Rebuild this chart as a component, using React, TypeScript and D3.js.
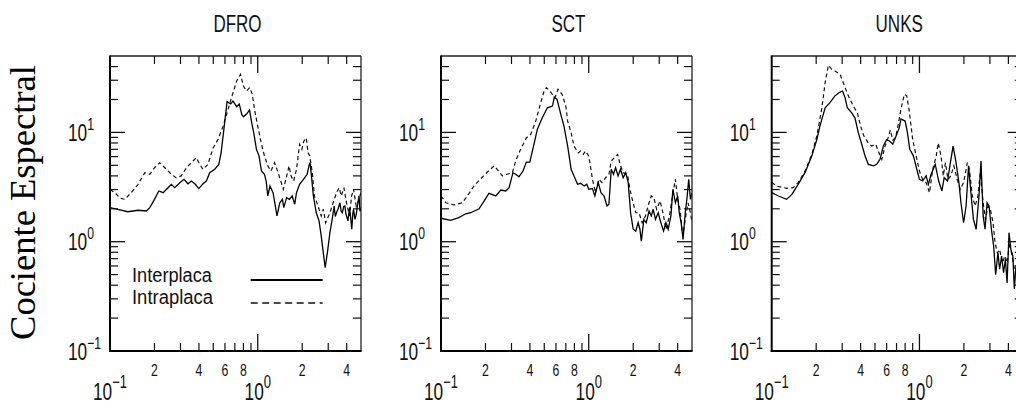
import React from 'react';
import * as d3 from 'd3';

type Pt = [number, number];

const stations = ['DFRO', 'SCT', 'UNKS'];
const seriesNames = ['Interplaca', 'Intraplaca'];

const dfroInter: Pt[] = [
  [0.1, 2.05], [0.113, 1.98], [0.132, 1.88], [0.155, 1.94], [0.176, 1.91], [0.186, 2.05], [0.2, 2.44],
  [0.214, 2.91], [0.229, 2.81], [0.247, 3.12], [0.26, 3.35], [0.274, 3.12], [0.297, 3.46], [0.317, 3.72],
  [0.337, 3.39], [0.355, 3.59], [0.378, 3.35], [0.399, 3.06], [0.426, 3.39], [0.449, 3.59], [0.473, 4.28],
  [0.511, 4.59], [0.545, 5.1], [0.565, 6.5], [0.583, 9.3], [0.6, 13.0], [0.62, 19.1], [0.656, 18.2],
  [0.68, 19.3], [0.72, 17.2], [0.75, 18.2], [0.78, 14.5], [0.8, 13.9], [0.84, 14.7], [0.88, 16.0],
  [0.91, 12.3], [0.94, 9.9], [0.98, 7.0], [1.02, 6.1], [1.06, 4.43], [1.11, 4.14], [1.14, 3.59],
  [1.17, 2.62], [1.21, 3.23], [1.27, 2.81], [1.35, 1.72], [1.41, 2.27], [1.47, 2.44], [1.5, 2.05],
  [1.57, 2.53], [1.64, 2.44], [1.71, 2.62], [1.78, 2.2], [1.83, 2.81], [1.92, 3.35], [2.04, 3.72],
  [2.16, 4.14], [2.22, 4.94], [2.26, 5.28], [2.31, 4.0], [2.38, 2.62], [2.49, 1.84], [2.6, 1.55],
  [2.69, 1.13], [2.76, 0.85], [2.86, 0.58], [2.96, 0.79], [3.08, 1.21], [3.19, 1.6], [3.29, 2.12],
  [3.35, 1.7], [3.41, 1.84], [3.5, 2.0], [3.6, 2.27], [3.67, 1.9], [3.74, 1.84], [3.82, 2.1],
  [3.89, 2.12], [3.95, 1.8], [4.08, 1.55], [4.18, 2.05], [4.25, 1.7], [4.33, 1.3], [4.4, 1.8],
  [4.45, 1.98], [4.55, 1.6], [4.64, 1.78], [4.75, 2.2], [4.85, 2.62], [4.92, 1.9], [5.0, 2.05],
];

const dfroIntra: Pt[] = [
  [0.1, 3.0], [0.108, 2.81], [0.117, 2.5], [0.126, 2.44], [0.139, 2.81], [0.155, 3.35], [0.172, 4.28],
  [0.186, 4.14], [0.2, 4.75], [0.217, 5.28], [0.235, 4.75], [0.26, 4.14], [0.28, 3.85], [0.304, 4.0],
  [0.329, 4.75], [0.355, 5.28], [0.384, 5.87], [0.405, 5.1], [0.426, 4.59], [0.46, 5.1], [0.499, 7.2],
  [0.54, 8.7], [0.583, 11.4], [0.63, 16.3], [0.67, 21.6], [0.72, 29.5], [0.765, 34.0], [0.8, 26.6],
  [0.84, 23.9], [0.88, 25.7], [0.92, 22.2], [0.95, 16.3], [1.0, 11.4], [1.06, 7.8], [1.11, 6.1],
  [1.17, 4.94], [1.23, 4.43], [1.3, 5.28], [1.35, 4.59], [1.42, 3.72], [1.49, 3.02], [1.54, 3.59],
  [1.63, 4.94], [1.68, 4.0], [1.75, 3.59], [1.83, 4.59], [1.92, 7.8], [1.99, 7.0], [2.05, 8.3],
  [2.13, 8.9], [2.19, 6.5], [2.25, 6.1], [2.34, 4.28], [2.42, 2.62], [2.56, 2.12], [2.69, 1.72],
  [2.78, 1.98], [2.88, 1.49], [3.08, 1.84], [3.24, 2.27], [3.41, 2.81], [3.56, 3.12], [3.68, 2.62],
  [3.83, 3.12], [3.99, 2.27], [4.18, 1.72], [4.32, 2.62], [4.45, 3.02], [4.64, 2.12], [4.85, 2.44],
  [5.0, 2.85],
];

const sctInter: Pt[] = [
  [0.1, 1.64], [0.116, 1.57], [0.132, 1.66], [0.147, 1.8], [0.159, 1.84], [0.181, 2.0], [0.196, 2.36],
  [0.211, 2.77], [0.235, 2.62], [0.254, 2.97], [0.274, 2.91], [0.289, 3.12], [0.307, 4.28], [0.32, 4.14],
  [0.337, 3.93], [0.359, 4.43], [0.378, 5.35], [0.399, 5.35], [0.426, 7.8], [0.449, 10.7], [0.485, 13.6],
  [0.525, 16.8], [0.568, 17.4], [0.585, 21.0], [0.61, 20.1], [0.647, 14.6], [0.68, 11.4], [0.72, 7.5],
  [0.76, 4.59], [0.795, 4.0], [0.84, 3.35], [0.88, 3.42], [0.93, 3.23], [0.97, 3.35], [1.0, 3.02],
  [1.06, 3.06], [1.1, 2.62], [1.16, 3.47], [1.21, 2.81], [1.27, 2.62], [1.33, 2.12], [1.37, 2.2],
  [1.42, 4.59], [1.47, 4.14], [1.52, 4.75], [1.58, 4.0], [1.64, 4.59], [1.71, 3.85], [1.78, 4.28],
  [1.85, 3.47], [1.92, 1.84], [2.0, 1.3], [2.08, 1.25], [2.16, 1.49], [2.22, 1.3], [2.27, 1.01],
  [2.36, 1.6], [2.45, 1.49], [2.56, 1.91], [2.65, 1.72], [2.73, 1.98], [2.83, 1.6], [2.95, 1.84],
  [3.08, 1.49], [3.21, 1.25], [3.33, 1.49], [3.45, 1.3], [3.6, 1.72], [3.71, 3.02], [3.86, 2.27],
  [4.0, 2.62], [4.1, 1.84], [4.22, 1.49], [4.35, 1.05], [4.5, 1.84], [4.64, 2.62], [4.75, 3.72],
  [4.88, 2.44], [5.0, 2.81],
];

const sctIntra: Pt[] = [
  [0.1, 2.62], [0.108, 2.27], [0.122, 2.17], [0.139, 2.27], [0.151, 2.62], [0.167, 3.23], [0.186, 3.77],
  [0.206, 4.34], [0.229, 4.94], [0.245, 4.43], [0.26, 4.0], [0.28, 4.14], [0.304, 4.28], [0.323, 5.67],
  [0.346, 7.0], [0.378, 8.9], [0.405, 9.6], [0.438, 12.7], [0.473, 18.7], [0.499, 23.9], [0.517, 25.7],
  [0.553, 23.4], [0.59, 20.7], [0.62, 24.8], [0.66, 22.3], [0.7, 17.4], [0.72, 12.7], [0.76, 9.9],
  [0.795, 7.5], [0.85, 6.5], [0.88, 6.75], [0.92, 6.3], [0.95, 6.75], [1.0, 6.1], [1.06, 3.72],
  [1.11, 2.81], [1.17, 3.72], [1.23, 3.47], [1.3, 3.85], [1.37, 4.14], [1.42, 5.47], [1.49, 5.87],
  [1.57, 6.3], [1.63, 5.1], [1.71, 4.28], [1.83, 4.14], [1.9, 3.02], [1.97, 2.44], [2.08, 1.84],
  [2.19, 1.84], [2.3, 1.49], [2.42, 1.72], [2.56, 2.27], [2.65, 2.62], [2.76, 2.53], [2.88, 1.98],
  [3.04, 2.36], [3.18, 1.84], [3.33, 1.3], [3.52, 1.72], [3.69, 2.62], [3.86, 3.72], [4.0, 2.44],
  [4.15, 1.98], [4.33, 1.13], [4.5, 1.6], [4.7, 2.27], [4.88, 1.84], [5.0, 1.49],
];

const unksInter: Pt[] = [
  [0.1, 2.81], [0.111, 2.62], [0.126, 2.44], [0.137, 2.71], [0.151, 3.35], [0.168, 4.28], [0.187, 6.1],
  [0.202, 8.6], [0.212, 11.4], [0.23, 16.8], [0.248, 18.7], [0.268, 21.6], [0.29, 23.4], [0.302, 23.9],
  [0.314, 20.7], [0.325, 16.8], [0.348, 15.1], [0.366, 13.6], [0.386, 9.9], [0.407, 7.8], [0.428, 6.1],
  [0.451, 5.1], [0.488, 4.94], [0.514, 5.1], [0.541, 5.67], [0.57, 7.5], [0.6, 8.6], [0.63, 8.3],
  [0.66, 7.8], [0.7, 9.5], [0.73, 11.0], [0.75, 13.3], [0.8, 12.7], [0.83, 9.9], [0.86, 7.0],
  [0.91, 6.1], [0.96, 4.59], [1.0, 3.72], [1.05, 3.59], [1.11, 4.0], [1.15, 3.35], [1.2, 4.14],
  [1.28, 5.1], [1.35, 3.59], [1.42, 2.91], [1.47, 3.85], [1.55, 3.59], [1.62, 5.28], [1.69, 7.5],
  [1.77, 5.28], [1.85, 3.47], [1.91, 2.27], [1.99, 1.49], [2.07, 2.12], [2.15, 4.94], [2.24, 2.62],
  [2.32, 1.6], [2.42, 1.3], [2.53, 2.62], [2.61, 5.47], [2.7, 1.72], [2.78, 1.3], [2.87, 2.27],
  [2.96, 2.12], [3.07, 1.3], [3.18, 0.91], [3.28, 0.5], [3.4, 0.79], [3.49, 0.56], [3.6, 0.74],
  [3.71, 0.52], [3.82, 0.69], [3.92, 0.42], [4.04, 1.21], [4.16, 0.85], [4.29, 0.74], [4.39, 0.37],
  [4.5, 0.6], [4.7, 0.4], [5.0, 0.5],
];

const unksIntra: Pt[] = [
  [0.1, 3.5], [0.108, 3.23], [0.126, 3.08], [0.14, 3.12], [0.151, 3.47], [0.168, 4.43], [0.187, 6.3],
  [0.202, 9.3], [0.218, 16.3], [0.23, 28.5], [0.242, 41.2], [0.255, 37.8], [0.268, 36.5], [0.29, 34.1],
  [0.305, 28.5], [0.33, 21.6], [0.357, 17.4], [0.38, 15.1], [0.4, 11.4], [0.42, 9.3], [0.451, 8.0],
  [0.475, 7.5], [0.506, 7.8], [0.532, 6.5], [0.556, 5.67], [0.585, 7.5], [0.615, 9.0], [0.635, 10.5],
  [0.66, 8.5], [0.69, 9.0], [0.72, 12.0], [0.75, 16.3], [0.79, 22.3], [0.82, 21.6], [0.85, 16.3],
  [0.9, 8.6], [0.95, 6.1], [1.0, 4.43], [1.05, 3.72], [1.11, 3.47], [1.17, 2.81], [1.23, 4.59],
  [1.3, 6.1], [1.34, 8.0], [1.4, 6.1], [1.45, 4.0], [1.5, 5.28], [1.56, 3.72], [1.63, 4.0],
  [1.71, 4.94], [1.8, 3.72], [1.89, 3.02], [1.99, 3.47], [2.11, 5.28], [2.18, 4.59], [2.28, 2.62],
  [2.38, 2.12], [2.49, 2.62], [2.58, 4.28], [2.7, 2.27], [2.8, 1.6], [2.91, 2.12], [3.02, 1.98],
  [3.15, 1.49], [3.25, 0.98], [3.37, 0.79], [3.49, 0.85], [3.64, 0.64], [3.79, 0.74], [3.94, 0.64],
  [4.06, 0.98], [4.24, 0.74], [4.39, 0.56], [4.6, 0.6], [5.0, 0.5],
];

const panelSeries: Pt[][][] = [
  [dfroInter, dfroIntra],
  [sctInter, sctIntra],
  [unksInter, unksIntra],
];

const xDomain: [number, number] = [0.1, 5];
const yDomain: [number, number] = [0.1, 50];
const xMinorTicks = [0.2, 0.3, 0.4, 0.5, 0.6, 0.7, 0.8, 0.9, 2, 3, 4];
const xMajorTicks = [1];
const xLabelValues = [0.2, 0.4, 0.6, 0.8, 2, 4];
const xLabelTexts = ['2', '4', '6', '8', '2', '4'];
const xDecadeValues = [0.1, 1];
const xDecadeExps = ['\u22121', '0'];
const yMinorTicks = [0.2, 0.3, 0.4, 0.5, 0.6, 0.7, 0.8, 0.9, 2, 3, 4, 5, 6, 7, 8, 9, 20, 30, 40];
const yMajorTicks = [1, 10];
const yDecadeValues = [0.1, 1, 10];
const yDecadeExps = ['\u22121', '0', '1'];
const yTitle = 'Cociente Espectral';

const PANEL_LEFTS = [110, 441, 771.7];
const PW = 251;
const TOP = 56;
const BOTTOM = 351;
const SANS = '"Liberation Sans", Arial, Helvetica, sans-serif';

function Panel({ idx }: { idx: number }) {
  const left = PANEL_LEFTS[idx];
  const right = left + PW;
  const x = d3.scaleLog().domain(xDomain).range([left, right]);
  const y = d3.scaleLog().domain(yDomain).range([BOTTOM, TOP]);
  const line = d3.line<Pt>().x(d => x(d[0])).y(d => y(d[1]));
  const [inter, intra] = panelSeries[idx];
  const clipId = `clip-${idx}`;
  const minorLen = 8;
  const majorX = 17;
  const majorY = 15;
  return (
    <g>
      <defs>
        <clipPath id={clipId}>
          <rect x={left} y={TOP} width={PW} height={BOTTOM - TOP} />
        </clipPath>
      </defs>
      <g transform={`translate(${(left + right) / 2 + 2},32) scale(0.74,1)`}>
        <text x={0} y={0} textAnchor="middle" fontFamily={SANS} fontSize={23} fill="#111">{stations[idx]}</text>
      </g>
      <g clipPath={`url(#${clipId})`}>
        <path d={line(intra) || ''} fill="none" stroke="#111" strokeWidth={1.2} strokeDasharray="4,3" />
        <path d={line(inter) || ''} fill="none" stroke="#000" strokeWidth={1.3} />
      </g>
      <line x1={left} y1={TOP} x2={right} y2={TOP} stroke="#222" strokeWidth={1.3} />
      <line x1={right} y1={TOP} x2={right} y2={BOTTOM} stroke="#222" strokeWidth={1.3} />
      <line x1={left} y1={TOP - 0.5} x2={left} y2={BOTTOM + 1} stroke="#000" strokeWidth={2} />
      <line x1={left - 1} y1={BOTTOM} x2={right + 0.6} y2={BOTTOM} stroke="#000" strokeWidth={2} />
      {xMinorTicks.map(v => (
        <g key={`xm${v}`}>
          <line x1={x(v)} x2={x(v)} y1={TOP} y2={TOP + minorLen} stroke="#111" strokeWidth={1.2} />
          <line x1={x(v)} x2={x(v)} y1={BOTTOM} y2={BOTTOM - minorLen} stroke="#111" strokeWidth={1.2} />
        </g>
      ))}
      {xMajorTicks.map(v => (
        <g key={`xM${v}`}>
          <line x1={x(v)} x2={x(v)} y1={TOP} y2={TOP + majorX} stroke="#111" strokeWidth={1.3} />
          <line x1={x(v)} x2={x(v)} y1={BOTTOM} y2={BOTTOM - majorX} stroke="#111" strokeWidth={1.3} />
        </g>
      ))}
      {yMinorTicks.map(v => (
        <g key={`ym${v}`}>
          <line x1={left} x2={left + minorLen} y1={y(v)} y2={y(v)} stroke="#111" strokeWidth={1.2} />
          <line x1={right} x2={right - minorLen} y1={y(v)} y2={y(v)} stroke="#111" strokeWidth={1.2} />
        </g>
      ))}
      {yMajorTicks.map(v => (
        <g key={`yM${v}`}>
          <line x1={left} x2={left + majorY} y1={y(v)} y2={y(v)} stroke="#111" strokeWidth={1.3} />
          <line x1={right} x2={right - majorY} y1={y(v)} y2={y(v)} stroke="#111" strokeWidth={1.3} />
        </g>
      ))}
      {xLabelValues.map((v, i) => (
        <g key={`xl${i}`} transform={`translate(${x(v)},375.5) scale(0.72,1)`}>
          <text x={0} y={0} textAnchor="middle" fontFamily={SANS} fontSize={17} fill="#111">{xLabelTexts[i]}</text>
        </g>
      ))}
      {xDecadeValues.map((v, i) => (
        <g key={`xd${i}`} transform={`translate(${x(v)},400) scale(0.72,1)`}>
          <text x={0} y={0} textAnchor="middle" fontFamily={SANS} fontSize={24} fill="#111">
            <tspan>10</tspan>
            <tspan dy={-12} fontSize={18}>{xDecadeExps[i]}</tspan>
          </text>
        </g>
      ))}
      {yDecadeValues.map((v, i) => (
        <g key={`yd${i}`} transform={`translate(${left - 42},${y(v) + 8.5}) scale(0.72,1)`}>
          <text x={0} y={0} textAnchor="start" fontFamily={SANS} fontSize={24} fill="#111">
            <tspan>10</tspan>
            <tspan dy={-11} fontSize={17}>{yDecadeExps[i]}</tspan>
          </text>
        </g>
      ))}
      {idx === 0 && (
        <g>
          <text x={132} y={282} fontFamily={SANS} fontSize={20} textLength={80} lengthAdjust="spacingAndGlyphs" fill="#111">{seriesNames[0]}</text>
          <text x={132} y={304} fontFamily={SANS} fontSize={20} textLength={81} lengthAdjust="spacingAndGlyphs" fill="#111">{seriesNames[1]}</text>
          <line x1={250.7} x2={322.7} y1={280} y2={280} stroke="#000" strokeWidth={2} />
          <line x1={250.7} x2={322.7} y1={303} y2={303} stroke="#111" strokeWidth={1.3} strokeDasharray="7,4.5" />
        </g>
      )}
    </g>
  );
}

export default function App() {
  return (
    <svg width={1016} height={408} viewBox="0 0 1016 408"
      style={{ position: 'absolute', left: 0, top: 0, background: '#fff', display: 'block' }}>
      <rect x={0} y={0} width={1016} height={408} fill="#fff" />
      <text transform="translate(35,202.5) rotate(-90)" textAnchor="middle"
        fontFamily='"Liberation Serif", "Times New Roman", serif' fontSize={35}
        textLength={275} lengthAdjust="spacingAndGlyphs" fill="#000">{yTitle}</text>
      {[0, 1, 2].map(i => <Panel key={i} idx={i} />)}
    </svg>
  );
}
